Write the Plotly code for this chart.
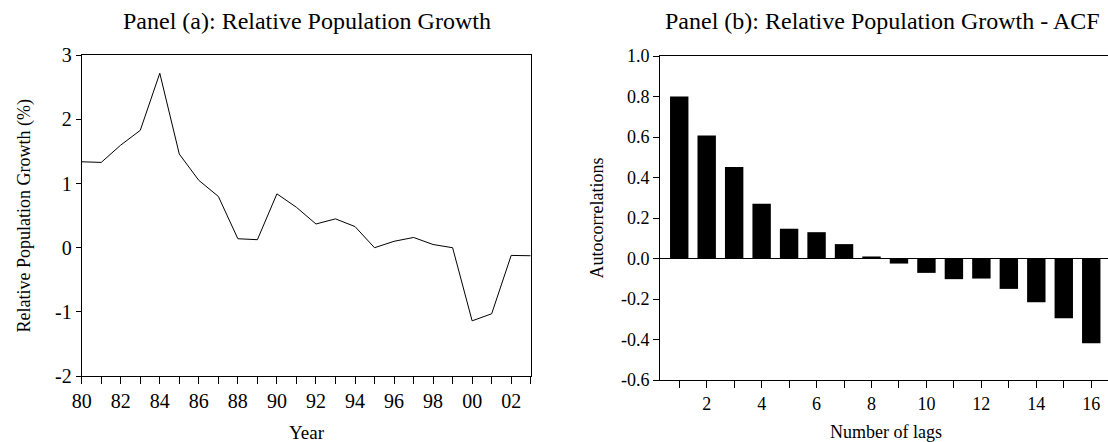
import plotly.graph_objects as go

# ---------------- data ----------------
years = list(range(1980, 2004))
growth = [1.34, 1.33, 1.60, 1.83, 2.72, 1.46, 1.05, 0.80, 0.14, 0.125,
          0.84, 0.63, 0.37, 0.45, 0.33, 0.00, 0.10, 0.16, 0.05, 0.00,
          -1.14, -1.03, -0.12, -0.125]
year_tickvals = list(range(1980, 2003, 2))
year_ticktext = ["80", "82", "84", "86", "88", "90", "92", "94", "96", "98", "00", "02"]
growth_tickvals = [-2, -1, 0, 1, 2, 3]
growth_ticktext = ["-2", "-1", "0", "1", "2", "3"]

lags = list(range(1, 17))
acf = [0.80, 0.607, 0.452, 0.27, 0.147, 0.13, 0.071, 0.01,
       -0.025, -0.071, -0.102, -0.099, -0.15, -0.216, -0.295, -0.419]
lag_tickvals = list(range(2, 17, 2))
lag_ticktext = [str(v) for v in lag_tickvals]
acf_tickvals = [-0.6, -0.4, -0.2, 0.0, 0.2, 0.4, 0.6, 0.8, 1.0]
acf_ticktext = ["-0.6", "-0.4", "-0.2", "0.0", "0.2", "0.4", "0.6", "0.8", "1.0"]

# ---------------- layout helpers ----------------
W, H = 1108, 442
FONT = "Liberation Serif"


def px_x(x):
    return x / W


def px_y(y):
    return 1 - y / H


fig = go.Figure()

fig.add_trace(go.Scatter(x=years, y=growth, mode="lines",
                         line=dict(color="black", width=1),
                         xaxis="x", yaxis="y", showlegend=False))

fig.add_trace(go.Bar(x=lags, y=acf, width=0.67,
                     marker=dict(color="black", line=dict(width=0)),
                     xaxis="x2", yaxis="y2", showlegend=False))

axis_common = dict(showgrid=False, showline=True, linecolor="black", linewidth=1,
                   ticks="outside", tickcolor="black", tickwidth=1,
                   color="black", automargin=False)

fig.update_layout(
    width=W, height=H,
    margin=dict(l=0, r=0, t=0, b=0, autoexpand=False),
    paper_bgcolor="white", plot_bgcolor="white",
    font=dict(family=FONT, color="black"),
    xaxis=dict(domain=[px_x(81.7), px_x(530.7)], range=[1980, 2003],
               anchor="y", mirror=True,
               tickvals=year_tickvals, ticktext=year_ticktext, ticklen=7,
               tickfont=dict(size=20, family=FONT),
               minor=dict(dtick=1, tick0=1980, ticks="outside", ticklen=7,
                          tickcolor="black", tickwidth=1),
               zeroline=False, **axis_common),
    yaxis=dict(domain=[px_y(376), px_y(55.3)], range=[-2, 3],
               anchor="x", mirror=True,
               tickvals=growth_tickvals, ticktext=growth_ticktext, ticklen=5,
               tickfont=dict(size=20, family=FONT),
               zeroline=False, **axis_common),
    xaxis2=dict(domain=[px_x(660), 1.0], range=[0.3, 16.61],
                anchor="y2", mirror=True,
                tickvals=lag_tickvals, ticktext=lag_ticktext, ticklen=7,
                tickfont=dict(size=18, family=FONT),
                minor=dict(dtick=1, tick0=1, ticks="outside", ticklen=7,
                           tickcolor="black", tickwidth=1),
                zeroline=False, **axis_common),
    yaxis2=dict(domain=[px_y(380), px_y(56)], range=[-0.6, 1.0],
                anchor="x2", mirror=False,
                tickvals=acf_tickvals, ticktext=acf_ticktext, ticklen=6,
                tickfont=dict(size=18, family=FONT),
                zeroline=True, zerolinecolor="black", zerolinewidth=1,
                **axis_common),
    bargap=0.33,
)

ann = [
    dict(text="Panel (a): Relative Population Growth", x=px_x(306.5), y=px_y(21),
         font=dict(size=24)),
    dict(text="Panel (b): Relative Population Growth - ACF", x=px_x(882.5), y=px_y(21),
         font=dict(size=24)),
    dict(text="Year", x=px_x(306.5), y=px_y(432), font=dict(size=19)),
    dict(text="Number of lags", x=px_x(886), y=px_y(432), font=dict(size=18)),
    dict(text="Relative Population Growth (%)", x=px_x(23.5), y=px_y(216),
         textangle=-90, font=dict(size=18)),
    dict(text="Autocorrelations", x=px_x(596.5), y=px_y(218),
         textangle=-90, font=dict(size=18)),
]
for a in ann:
    fig.add_annotation(xref="paper", yref="paper", showarrow=False,
                       xanchor="center", yanchor="middle",
                       **{k: v for k, v in a.items() if k != "font"},
                       font=dict(family=FONT, color="black", **a["font"]))

fig.write_html("out.html")
